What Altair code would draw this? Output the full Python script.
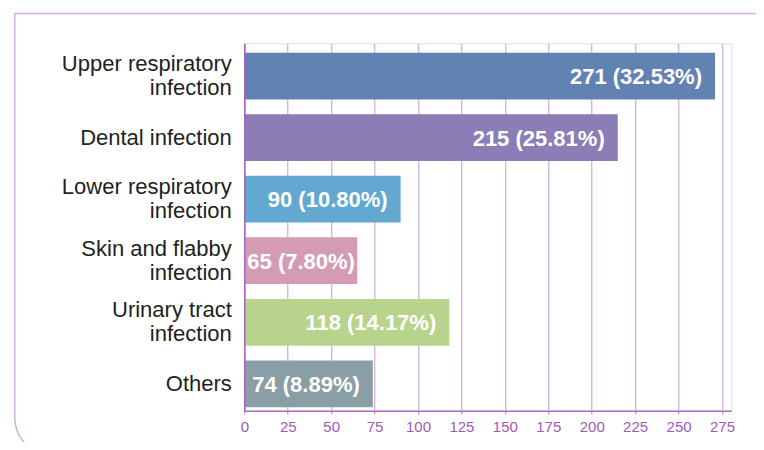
import altair as alt
import pandas as pd

# ---- data ----
categories = [
    "Upper respiratory|infection",
    "Dental infection",
    "Lower respiratory|infection",
    "Skin and flabby|infection",
    "Urinary tract|infection",
    "Others",
]
counts = [271, 215, 90, 65, 118, 74]
percents = ["32.53%", "25.81%", "10.80%", "7.80%", "14.17%", "8.89%"]
bar_colors = ["#6282b4", "#8b7db6", "#62a8d0", "#d39cb4", "#b8d48c", "#8a9ea8"]
x_ticks = [0, 25, 50, 75, 100, 125, 150, 175, 200, 225, 250, 275]

df = pd.DataFrame({
    "category": categories,
    "count": counts,
    "pct": percents,
    "color": bar_colors,
})
df["label"] = [f"{c} ({p})" for c, p in zip(counts, percents)]

W = 487
H = 367.4
PAD = {"left": 236.3, "top": 35.3, "right": 24.7, "bottom": 31.3}
FONT = "Liberation Sans"
PURPLE_GRID = "#c39bd3"
PURPLE_AXIS = "#a86fbf"

x_scale = alt.Scale(domain=[0, 280.36], nice=False, zero=True)
y_scale = alt.Scale(paddingInner=0.24, paddingOuter=0.104, align=0.73)

x_axis = alt.Axis(
    title=None, values=x_ticks, grid=True, gridColor=PURPLE_GRID, gridWidth=1,
    tickColor=PURPLE_AXIS, tickSize=3, tickWidth=1, domainColor=PURPLE_AXIS,
    domainWidth=1.5, labelColor="#9f5bb6", labelFontSize=15, labelFont=FONT,
    labelPadding=6, labelFlush=False,
)
y_axis = alt.Axis(
    title=None, labelExpr="split(datum.label, '|')", labelFont=FONT,
    labelFontSize=22, labelColor="#231f20", labelPadding=13, ticks=False,
    domain=True, domainColor="#a664bd", domainWidth=1.5, labelLineHeight=24,
    labelOffset={"condition": {"test": "indexof(datum.value, '|') >= 0", "value": -12}, "value": 0},
    labelLimit=300, grid=False, zindex=1,
)

frame = alt.Chart(pd.DataFrame({"k": [0]})).mark_rect(
    fill="transparent", stroke="#d2b0dd", strokeWidth=1.5,
    cornerRadiusBottomLeft=39, cornerRadiusBottomRight=39,
).encode(
    x=alt.value(-229.6), x2=alt.value(531.7),
    y=alt.value(-29.7), y2=alt.value(412.7),
)

bars = alt.Chart(df).mark_bar().encode(
    y=alt.Y("category:N", sort=categories, scale=y_scale, axis=y_axis),
    x=alt.X("count:Q", scale=x_scale, axis=x_axis),
    color=alt.Color("color:N", scale=None),
)

labels = alt.Chart(df).transform_calculate(
    label_end="max(datum.count - 7.5, 63.7)"
).mark_text(
    align="right", baseline="middle", color="white", font=FONT,
    fontWeight="bold", fontSize=22, dy=1,
).encode(
    y=alt.Y("category:N", sort=categories, scale=y_scale, axis=y_axis),
    x=alt.X("label_end:Q", scale=x_scale, axis=x_axis),
    text="label:N",
)

chart = alt.layer(frame, bars, labels).properties(
    width=W, height=H,
    autosize=alt.AutoSizeParams(type="none"),
    padding=PAD,
).configure_view(stroke=None).configure(background="white")

chart.save("out.html", embed_options={"renderer": "svg", "actions": False})
